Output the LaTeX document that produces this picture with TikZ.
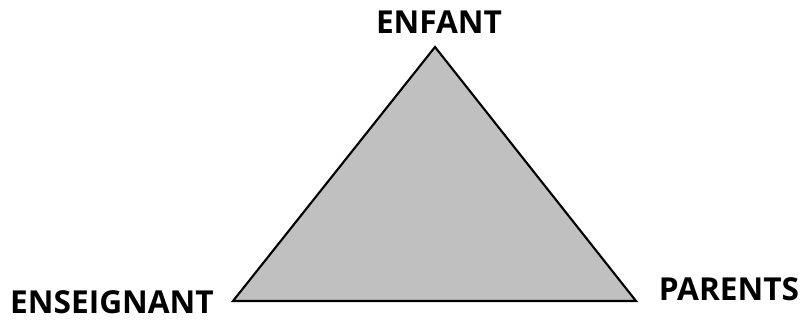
\documentclass[tikz,border=0pt]{standalone}
\usepackage{fontspec}
\setmainfont{Open Sans}
\usetikzlibrary{positioning}
\definecolor{trigray}{HTML}{C0C0C0}

\begin{document}
\begin{tikzpicture}[
    corner/.style={font=\fontsize{22.5}{26}\selectfont\bfseries, inner sep=0pt},
    tri/.style={draw=black, line width=1.5pt, fill=trigray, line join=miter}]
    \useasboundingbox (0,0) rectangle (20.1,8);
    \coordinate (top) at (10.875,6.825);
    \coordinate (left) at (5.825,0.475);
    \coordinate (right) at (15.9,0.475);
    \filldraw [tri] (top) -- (left) -- (right) -- cycle;
    \node [corner] (enfant) at (10.975,7.45) {ENFANT};
    \node [corner] (enseignant) at (2.8,0.45) {ENSEIGNANT};
    \node [corner] (parents) at (18.225,0.775) {PARENTS};
\end{tikzpicture}
\end{document}
